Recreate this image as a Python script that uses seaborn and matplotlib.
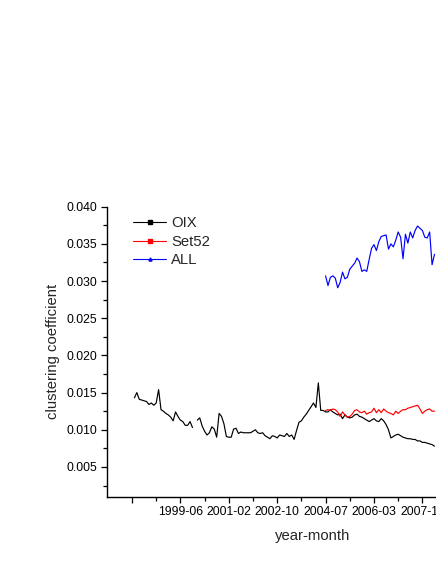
import numpy as np
import pandas as pd
import matplotlib
matplotlib.use('Agg')
import matplotlib.pyplot as plt
from matplotlib.lines import Line2D
import seaborn as sns

# month index: 0 = 1997-01
oix_start = 10
oix_values = [
    0.0143, 0.0150, 0.0141, 0.0140, 0.0139, 0.0138, 0.0134, 0.0136, 0.0133, 0.0136,
    0.0154, 0.0127, 0.0125, 0.0122, 0.0120, 0.0117, 0.0112, 0.0124, 0.0118, 0.0113,
    0.0111, 0.0106, 0.0106, 0.0111, 0.0103, np.nan, 0.0113, 0.0116, 0.0105, 0.0098,
    0.0093, 0.0096, 0.0104, 0.0101, 0.0090, 0.0122, 0.0118, 0.0108, 0.0091, 0.0090,
    0.0090, 0.0101, 0.0102, 0.0095, 0.0097, 0.0096, 0.0096, 0.0096, 0.0096, 0.0098,
    0.0100, 0.0096, 0.0095, 0.0096, 0.0092, 0.0090, 0.0088, 0.0092, 0.0091, 0.0089,
    0.0093, 0.0092, 0.0091, 0.0095, 0.0091, 0.0093, 0.0087, 0.0099, 0.0110, 0.0112,
    0.0117, 0.0121, 0.0126, 0.0131, 0.0136, 0.0130, 0.0163, 0.0126, 0.0126, 0.0124,
    0.0124, 0.0127, 0.0124, 0.0122, 0.0120, 0.0121, 0.0115, 0.0120, 0.0117, 0.0116,
    0.0117, 0.0120, 0.0121, 0.0118, 0.0117, 0.0115, 0.0113, 0.0111, 0.0113, 0.0115,
    0.0112, 0.0111, 0.0115, 0.0112, 0.0107, 0.0100, 0.0089, 0.0091, 0.0093, 0.0094,
    0.0092, 0.0090, 0.0089, 0.0088, 0.0088, 0.0087, 0.0087, 0.0085, 0.0085, 0.0083,
    0.0083, 0.0082, 0.0081, 0.0080, 0.0078,
]

set52_start = 89
set52_values = [
    0.0126, 0.0127, 0.0126, 0.0128, 0.0127, 0.0124, 0.0118, 0.0124, 0.0120, 0.0117,
    0.0118, 0.0121, 0.0126, 0.0127, 0.0124, 0.0123, 0.0125, 0.0121, 0.0123, 0.0124,
    0.0129, 0.0123, 0.0127, 0.0123, 0.0128, 0.0125, 0.0123, 0.0122, 0.0120, 0.0125,
    0.0122, 0.0125, 0.0127, 0.0127, 0.0129, 0.0130, 0.0131, 0.0132, 0.0133, 0.0128,
    0.0122, 0.0125, 0.0127, 0.0128, 0.0125, 0.0125,
]

all_start = 89
all_values = [
    0.0307, 0.0294, 0.0305, 0.0307, 0.0304, 0.0291, 0.0298, 0.0312, 0.0303, 0.0305,
    0.0316, 0.0320, 0.0324, 0.0331, 0.0326, 0.0313, 0.0315, 0.0313, 0.0329, 0.0344,
    0.0349, 0.0341, 0.0353, 0.0360, 0.0361, 0.0362, 0.0343, 0.0350, 0.0346, 0.0355,
    0.0366, 0.0359, 0.0330, 0.0363, 0.0351, 0.0366, 0.0358, 0.0368, 0.0374, 0.0371,
    0.0368, 0.0359, 0.0358, 0.0366, 0.0322, 0.0336,
]

tick_pos = [9, 29, 49, 69, 89, 109, 129]
tick_labels = ['', '1999-06', '2001-02', '2002-10', '2004-07', '2006-03', '2007-11']
minor_pos = [19, 39, 59, 79, 99, 119, 139]

series_names = ['OIX', 'Set52', 'ALL']
colors = {'OIX': '#000000', 'Set52': '#ff0000', 'ALL': '#0000ff'}
markers = {'OIX': 's', 'Set52': 's', 'ALL': '^'}


def to_frame(name, start, values):
    vals = np.array(values, dtype=float)
    months = np.arange(start, start + len(vals))
    # split into segments at missing months so the gap stays open
    seg = np.cumsum(np.isnan(vals))
    df = pd.DataFrame({'month': months, 'value': vals, 'series': name, 'seg': seg})
    df = df.dropna()
    df['unit'] = name + '_' + df['seg'].astype(str)
    return df


data = pd.concat([
    to_frame('OIX', oix_start, oix_values),
    to_frame('Set52', set52_start, set52_values),
    to_frame('ALL', all_start, all_values),
], ignore_index=True)

sns.set_theme(style='ticks')
plt.rcParams['font.family'] = ['Liberation Sans', 'DejaVu Sans']

fig = plt.figure(figsize=(4.36, 5.64), dpi=100)
xmin, xmax = -1.2, 140
px_per_month = 2.42
ax_w = (xmax - xmin) * px_per_month / 436
ax = fig.add_axes([107.3 / 436, 67.3 / 564, ax_w, 290 / 564])

sns.lineplot(data=data, x='month', y='value', hue='series', units='unit',
             estimator=None, palette=colors, hue_order=series_names,
             linewidth=0.85, legend=False, ax=ax)

ax.set_xlim(xmin, xmax)
ax.set_ylim(0.001, 0.040)
ax.set_xticks(tick_pos)
ax.set_xticklabels(tick_labels)
ax.set_xticks(minor_pos, minor=True)
ax.set_yticks(np.arange(0.005, 0.0401, 0.005))
ax.set_yticks(np.arange(0.0025, 0.040, 0.005), minor=True)
ax.yaxis.set_major_formatter(matplotlib.ticker.FormatStrFormatter('%.3f'))

for side in ['top', 'right']:
    ax.spines[side].set_visible(False)
for side in ['left', 'bottom']:
    ax.spines[side].set_linewidth(1.0)
    ax.spines[side].set_color('black')

ax.tick_params(which='major', direction='out', length=4.5, width=0.9, colors='black',
               labelsize=8.8, pad=2.5)
ax.tick_params(which='minor', direction='out', length=3, width=0.9, colors='black')

ax.set_ylabel('clustering coefficient', fontsize=10.7, labelpad=5)
ax.set_xlabel('year-month', fontsize=10.7)
ax.xaxis.set_label_coords((83.6 - xmin) / (xmax - xmin), -0.112)

handles = [Line2D([0], [0], color=colors[n], lw=0.8, marker=markers[n], markersize=2.2)
           for n in series_names]
ax.legend(handles, series_names, loc='upper left',
          bbox_to_anchor=((133 - 107.3) / (ax_w * 436), 0.967),
          frameon=False, fontsize=10.7, handlelength=2.25, handletextpad=0.3,
          labelspacing=0.3, borderpad=0, borderaxespad=0)

fig.savefig('out.png', dpi=100)
